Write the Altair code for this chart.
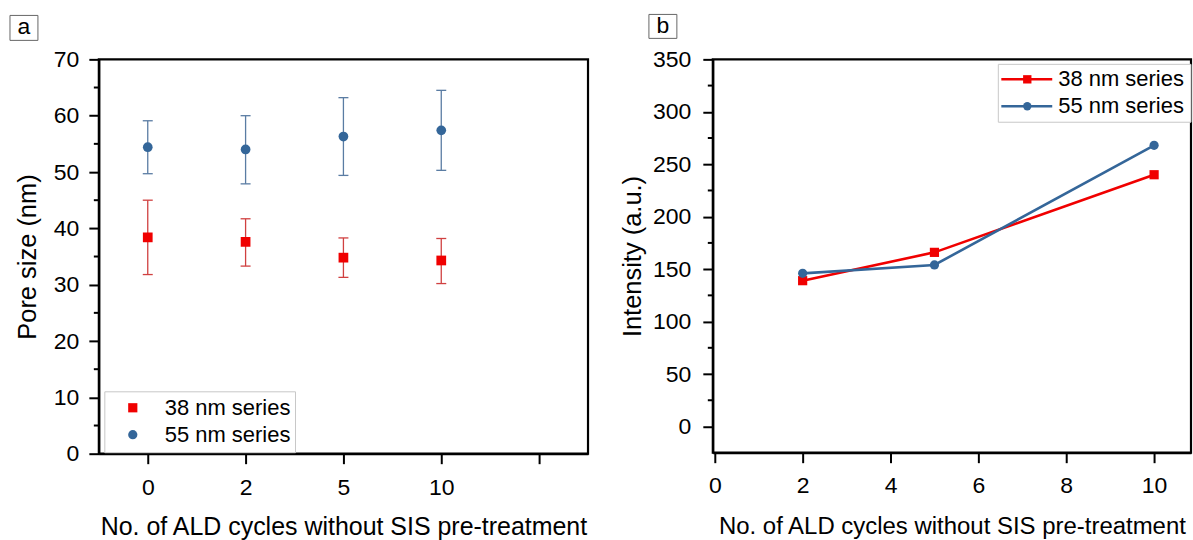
import altair as alt
import pandas as pd

FONT = "Liberation Sans"

series = ["38 nm series", "55 nm series"]
legend_rows = [0, 1]

# Panel a: pore size vs ALD cycles (categorical positions)
a_cycles = ["0", "2", "5", "10"]
a_axis_slots = ["0", "2", "5", "10", " "]
a38_mean = [38.4, 37.6, 34.8, 34.3]
a38_lo = [31.8, 33.3, 31.3, 30.2]
a38_hi = [45.0, 41.7, 38.3, 38.2]
a55_mean = [54.4, 54.0, 56.3, 57.4]
a55_lo = [49.7, 47.9, 49.4, 50.3]
a55_hi = [59.1, 60.0, 63.2, 64.5]
a_y_ticks = [0, 10, 20, 30, 40, 50, 60, 70]
a_y_minor = [5, 15, 25, 35, 45, 55, 65]

# Panel b: intensity vs ALD cycles
b_cycles = [2, 5, 10]
b38 = [139, 166, 240]
b55 = [146, 154, 268]
b_x_ticks = [0, 2, 4, 6, 8, 10]
b_y_ticks = [0, 50, 100, 150, 200, 250, 300, 350]
b_y_minor = [25, 75, 125, 175, 225, 275, 325]

RED = "#f00000"
BLUE = "#346699"
ERR_RED = "#d04040"
ERR_BLUE = "#5a7ca3"

a_df = pd.DataFrame({
    "cycles": a_cycles * 2,
    "series": [series[0]] * 4 + [series[1]] * 4,
    "mean": a38_mean + a55_mean,
    "lo": a38_lo + a55_lo,
    "hi": a38_hi + a55_hi,
})
b_df = pd.DataFrame({
    "cycles": b_cycles * 2,
    "series": [series[0]] * 3 + [series[1]] * 3,
    "val": b38 + b55,
})
leg_df = pd.DataFrame({"series": series, "row": legend_rows})
one = pd.DataFrame({"label": ["a"]})
one_b = pd.DataFrame({"label": ["b"]})

WA, HA = 490, 395
WB, HB = 479, 394

color = alt.Color("series:N", scale=alt.Scale(domain=series, range=[RED, BLUE]), legend=None)
shape = alt.Shape("series:N", scale=alt.Scale(domain=series, range=["square", "circle"]), legend=None)

# ---------- Panel a ----------
xa = alt.X("cycles:O",
           scale=alt.Scale(type="point", domain=a_axis_slots, padding=0.5),
           axis=alt.Axis(title="No. of ALD cycles without SIS pre-treatment", labelAngle=0,
                         labelPadding=13, titleFontSize=25, titleX=WA / 2, titleY=81,
                         titleBaseline="alphabetic", titleAlign="center"))
ya_scale = alt.Scale(domain=[0, 70], nice=False)
ya_axis = alt.Axis(values=a_y_ticks, title="Pore size (nm)", titleFontSize=25.5,
                   titleX=-58, titleY=HA / 2, titleBaseline="bottom", titleAlign="center",
                   labelPadding=10)

minor_a = alt.Chart(pd.DataFrame({"v": a_y_minor})).mark_rule(color="black", strokeWidth=2).encode(
    y=alt.Y("v:Q", scale=ya_scale, axis=ya_axis), x=alt.value(-5), x2=alt.value(0))
base_a = alt.Chart(a_df)
err_a = base_a.mark_rule(strokeWidth=1.3).encode(
    x=xa, y=alt.Y("lo:Q", scale=ya_scale, axis=ya_axis), y2="hi:Q",
    stroke=alt.Stroke("series:N", scale=alt.Scale(domain=series, range=[ERR_RED, ERR_BLUE]), legend=None))
cap_fill = alt.Fill("series:N", scale=alt.Scale(domain=series, range=[ERR_RED, ERR_BLUE]), legend=None)
cap_hi = base_a.mark_tick(orient="horizontal", size=10, thickness=1.3, opacity=1).encode(
    x=xa, y=alt.Y("hi:Q", scale=ya_scale, axis=ya_axis), fill=cap_fill)
cap_lo = base_a.mark_tick(orient="horizontal", size=10, thickness=1.3, opacity=1).encode(
    x=xa, y=alt.Y("lo:Q", scale=ya_scale, axis=ya_axis), fill=cap_fill)
pts_a = base_a.mark_point(filled=True, size=95, opacity=1).encode(
    x=xa, y=alt.Y("mean:Q", scale=ya_scale, axis=ya_axis), color=color, shape=shape)
main_a = alt.layer(minor_a, err_a, cap_hi, cap_lo, pts_a)

ly_a = alt.Y("row:Q", scale=alt.Scale(domain=[0, 1], range=[349, 376]), axis=None)
box_a = alt.Chart(one).mark_rect(fill="white", stroke="#c8c8c8", strokeWidth=1).encode(
    x=alt.value(6), x2=alt.value(197), y=alt.value(333), y2=alt.value(394))
legpts_a = alt.Chart(leg_df).mark_point(filled=True, size=85, opacity=1).encode(
    x=alt.value(34), y=ly_a, color=color, shape=shape)
legtxt_a = alt.Chart(leg_df).mark_text(align="left", baseline="middle", fontSize=22, font=FONT,
                                       color="black").encode(x=alt.value(66), y=ly_a, text="series:N")
lblbox_a = alt.Chart(one).mark_rect(fill="white", stroke="#666666", strokeWidth=1).encode(
    x=alt.value(-89), x2=alt.value(-61), y=alt.value(-44), y2=alt.value(-19))
lbltxt_a = alt.Chart(one).mark_text(align="center", baseline="middle", fontSize=23, font=FONT,
                                    color="black").encode(x=alt.value(-75), y=alt.value(-32), text="label:N")
legend_a = alt.layer(box_a, legpts_a, legtxt_a, lblbox_a, lbltxt_a)

panel_a = alt.layer(main_a, legend_a).resolve_scale(y="independent").properties(width=WA, height=HA)

# ---------- Panel b ----------
xb_scale = alt.Scale(domain=[-0.045, 10.84], nice=False, zero=False)
xb = alt.X("cycles:Q", scale=xb_scale,
           axis=alt.Axis(values=b_x_ticks, format="d", title="No. of ALD cycles without SIS pre-treatment",
                         labelPadding=12, titleFontSize=24, titleX=WB / 2, titleY=81,
                         titleBaseline="alphabetic", titleAlign="center"))
yb_scale = alt.Scale(domain=[-25, 350], nice=False, zero=False)
yb_axis = alt.Axis(values=b_y_ticks, title="Intensity (a.u.)", titleFontSize=25.5,
                   titleX=-67, titleY=HB / 2, titleBaseline="bottom", titleAlign="center",
                   labelPadding=12)

minor_b = alt.Chart(pd.DataFrame({"v": b_y_minor})).mark_rule(color="black", strokeWidth=2).encode(
    y=alt.Y("v:Q", scale=yb_scale, axis=yb_axis), x=alt.value(-5), x2=alt.value(0))
base_b = alt.Chart(b_df)
lines_b = base_b.mark_line(strokeWidth=2.6).encode(
    x=xb, y=alt.Y("val:Q", scale=yb_scale, axis=yb_axis), color=color)
pts_b = base_b.mark_point(filled=True, size=85, opacity=1).encode(
    x=xb, y=alt.Y("val:Q", scale=yb_scale, axis=yb_axis), color=color, shape=shape)
main_b = alt.layer(minor_b, lines_b, pts_b)

ly_b = alt.Y("row:Q", scale=alt.Scale(domain=[0, 1], range=[20, 47]), axis=None)
box_b = alt.Chart(one_b).mark_rect(fill="white", stroke="#c8c8c8", strokeWidth=1).encode(
    x=alt.value(286), x2=alt.value(479), y=alt.value(5), y2=alt.value(63))
legln_b = alt.Chart(leg_df).mark_rule(strokeWidth=2.6).encode(
    x=alt.value(289), x2=alt.value(340), y=ly_b, color=color)
legpts_b = alt.Chart(leg_df).mark_point(filled=True, size=70, opacity=1).encode(
    x=alt.value(315), y=ly_b, color=color, shape=shape)
legtxt_b = alt.Chart(leg_df).mark_text(align="left", baseline="middle", fontSize=22, font=FONT,
                                       color="black").encode(x=alt.value(346), y=ly_b, text="series:N")
lblbox_b = alt.Chart(one_b).mark_rect(fill="white", stroke="#666666", strokeWidth=1).encode(
    x=alt.value(-64), x2=alt.value(-36), y=alt.value(-45), y2=alt.value(-21))
lbltxt_b = alt.Chart(one_b).mark_text(align="center", baseline="middle", fontSize=23, font=FONT,
                                      color="black").encode(x=alt.value(-50), y=alt.value(-33), text="label:N")
legend_b = alt.layer(box_b, legln_b, legpts_b, legtxt_b, lblbox_b, lbltxt_b)

panel_b = alt.layer(main_b, legend_b).resolve_scale(y="independent").properties(width=WB, height=HB)

chart = alt.hconcat(panel_a, panel_b, spacing=125, bounds="flush").properties(
    padding={"left": 8, "top": 12, "right": 0, "bottom": 0},
    background="white",
).configure_view(stroke="black", strokeWidth=2.2).configure_axis(
    domainColor="black", domainWidth=2.2, tickColor="black", tickWidth=2, tickSize=10,
    labelFont=FONT, labelFontSize=23, labelColor="black",
    titleFont=FONT, titleFontWeight="normal", titleColor="black", grid=False,
)

chart.save("out.html", embed_options={"renderer": "svg", "actions": False})
